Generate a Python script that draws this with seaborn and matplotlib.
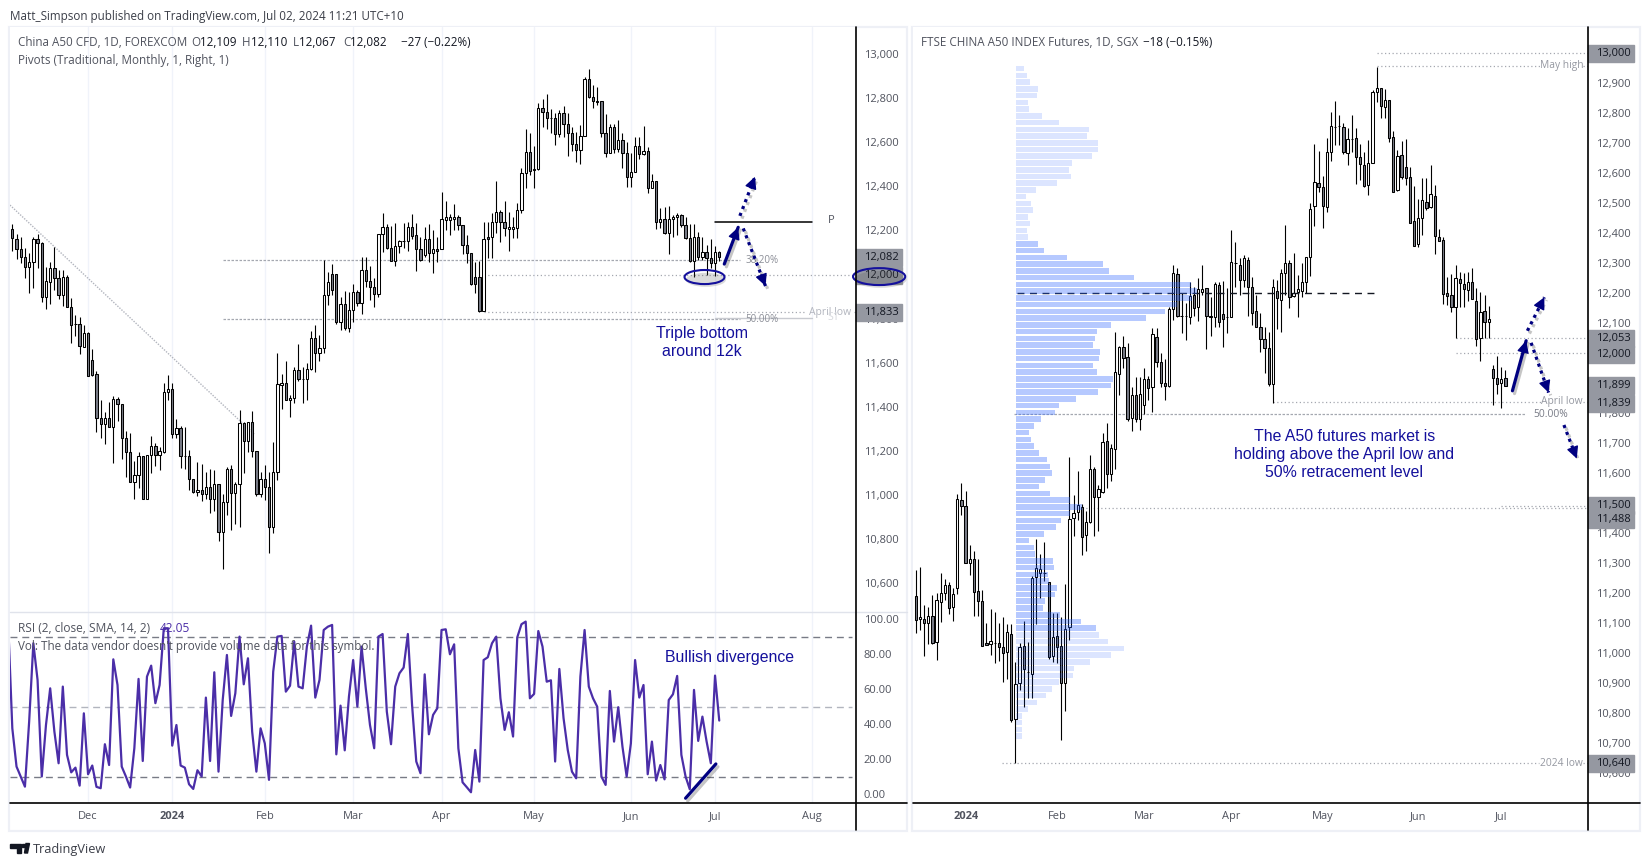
import numpy as np
import pandas as pd
import matplotlib
matplotlib.use('Agg')
import matplotlib.pyplot as plt
import matplotlib.patheffects as pe
from matplotlib.lines import Line2D
from matplotlib.patches import Ellipse, Polygon, Rectangle
from matplotlib.transforms import ScaledTranslation
import seaborn as sns

# %% data: China A50 CFD (left)
left_open = [12211, 12167, 12119, 12086, 12040, 12063, 12164, 12146, 11904, 11972, 12033, 11987, 11911, 11995, 11858, 11778, 11778, 11676, 11737, 11614,
             11551, 11351, 11323, 11351, 11310, 11437, 11414, 11260, 11196, 11060, 11092, 11178, 10986, 11183, 11223, 11183, 11198, 11469, 11482, 11278,
             11305, 11181, 11178, 11073, 11014, 11023, 11008, 11037, 10986, 11051, 10833, 10969, 11119, 11010, 11051, 11328, 11249, 11333, 11204, 11008,
             11073, 11037, 10855, 11105, 11504, 11513, 11432, 11442, 11569, 11528, 11528, 11573, 11714, 11646, 11669, 11911, 12007, 12007, 11790, 11870,
             11760, 11843, 11926, 11873, 12025, 11977, 11946, 11914, 12189, 12222, 12124, 12067, 12135, 12158, 12158, 12219, 12183, 12119, 12093, 12164,
             12104, 12119, 12119, 12252, 12252, 12255, 12264, 12228, 12140, 12101, 11992, 11992, 11840, 12176, 12176, 12242, 12287, 12242, 12213, 12213,
             12214, 12296, 12464, 12560, 12478, 12482, 12760, 12742, 12714, 12714, 12642, 12737, 12687, 12646, 12596, 12569, 12636, 12892, 12813, 12795,
             12792, 12646, 12555, 12674, 12574, 12616, 12555, 12446, 12469, 12587, 12551, 12566, 12399, 12428, 12242, 12255, 12192, 12255, 12264, 12273,
             12228, 12169, 12066, 12174, 12086, 12105, 12081, 12055, 12109]
left_high = [12234, 12189, 12174, 12123, 12100, 12173, 12187, 12150, 12040, 12063, 12131, 12025, 12025, 12001, 11896, 11820, 11813, 11775, 11745, 11664,
             11566, 11434, 11381, 11423, 11452, 11446, 11414, 11292, 11283, 11155, 11196, 11178, 11183, 11270, 11237, 11219, 11510, 11548, 11510, 11346,
             11316, 11313, 11207, 11073, 11151, 11143, 11108, 11120, 11116, 11051, 11007, 11128, 11137, 11063, 11389, 11336, 11333, 11384, 11204, 11108,
             11138, 11108, 11242, 11646, 11551, 11611, 11455, 11582, 11689, 11582, 11601, 11748, 11775, 11729, 12070, 12017, 12051, 12007, 11901, 11930,
             11926, 11961, 11934, 12086, 12086, 12043, 11987, 12189, 12283, 12234, 12225, 12237, 12161, 12237, 12245, 12280, 12240, 12177, 12219, 12233,
             12207, 12177, 12378, 12337, 12280, 12325, 12275, 12228, 12184, 12101, 12063, 12068, 12242, 12245, 12283, 12430, 12298, 12339, 12290, 12268,
             12331, 12487, 12666, 12646, 12589, 12783, 12801, 12825, 12755, 12737, 12752, 12770, 12737, 12674, 12654, 12684, 12901, 12937, 12866, 12858,
             12792, 12733, 12689, 12689, 12707, 12646, 12605, 12555, 12628, 12628, 12680, 12583, 12460, 12428, 12305, 12310, 12318, 12275, 12286, 12280,
             12268, 12233, 12234, 12199, 12177, 12139, 12164, 12134, 12110]
left_low = [12113, 12073, 12055, 11987, 11922, 11942, 12033, 11881, 11849, 11870, 11934, 11892, 11863, 11858, 11692, 11726, 11642, 11673, 11543, 11545,
            11290, 11263, 11233, 11310, 11146, 11340, 11164, 11086, 11060, 10986, 11033, 10986, 10986, 11104, 11136, 11116, 11192, 11434, 11263, 11260,
            11126, 11120, 11025, 11010, 10998, 10976, 10986, 10919, 10931, 10793, 10667, 10911, 10843, 10870, 10858, 11104, 11199, 11176, 10998, 10995,
            10980, 10737, 10831, 11070, 11393, 11432, 11358, 11419, 11522, 11422, 11434, 11570, 11563, 11613, 11646, 11866, 11911, 11779, 11752, 11752,
            11745, 11790, 11861, 11825, 11949, 11889, 11858, 11904, 12108, 12119, 12067, 12045, 12100, 12124, 12113, 12164, 12022, 12067, 12086, 12063,
            12010, 12063, 12119, 12207, 12184, 12207, 12207, 12098, 12055, 11957, 11922, 11836, 11840, 12078, 12078, 12195, 12154, 12180, 12113, 12169,
            12169, 12283, 12396, 12457, 12399, 12480, 12674, 12664, 12646, 12593, 12631, 12628, 12545, 12567, 12517, 12507, 12636, 12805, 12760, 12775,
            12631, 12540, 12555, 12555, 12563, 12487, 12404, 12404, 12469, 12530, 12548, 12377, 12399, 12210, 12214, 12189, 12096, 12177, 12184, 12222,
            12164, 12063, 11995, 12071, 12071, 12002, 12033, 11998, 12067]
left_close = [12169, 12119, 12086, 12040, 12063, 12164, 12146, 11904, 11975, 12033, 11987, 11911, 11993, 11858, 11775, 11778, 11680, 11737, 11543, 11548,
              11351, 11323, 11351, 11310, 11437, 11414, 11260, 11196, 11060, 11092, 11178, 10986, 11183, 11223, 11183, 11201, 11469, 11482, 11278, 11305,
              11181, 11181, 11073, 11014, 11023, 11008, 11037, 10986, 11051, 10833, 10969, 11119, 11010, 11051, 11328, 11249, 11333, 11204, 11008, 11073,
              11037, 10855, 11105, 11505, 11513, 11432, 11442, 11569, 11528, 11528, 11573, 11714, 11646, 11669, 11911, 11972, 11934, 11790, 11870, 11760,
              11843, 11926, 11873, 12025, 11977, 11946, 11914, 12189, 12222, 12124, 12067, 12134, 12155, 12158, 12219, 12180, 12119, 12070, 12164, 12104,
              12119, 12110, 12255, 12264, 12264, 12264, 12228, 12140, 12101, 11960, 11960, 11840, 12164, 12164, 12242, 12287, 12242, 12214, 12222, 12222,
              12296, 12464, 12560, 12477, 12482, 12760, 12742, 12714, 12714, 12642, 12737, 12687, 12646, 12596, 12569, 12636, 12892, 12813, 12795, 12790,
              12646, 12555, 12674, 12574, 12616, 12555, 12446, 12469, 12587, 12551, 12566, 12399, 12428, 12242, 12255, 12192, 12255, 12264, 12273, 12228,
              12169, 12066, 12174, 12086, 12105, 12081, 12055, 12105, 12082]

# RSI(2), first value belongs to the bar just off the left edge
rsi_values = [98.7, 37.6, 15.7, 10, 4.2, 41.4, 86.3, 65.3, 10, 39.5, 60.5, 35.7, 17.6, 61.5, 22.4, 12.4, 15.1, 4.8, 46.2, 11.3, 16.3,
              4.1, 3.3, 28.5, 16.6, 77.1, 62.4, 15.7, 10, 3.7, 26.2, 65.9, 18.9, 67.2, 73.5, 52, 62.4, 94.9, 94.9, 27.7, 39.5,
              16.3, 15.1, 5.6, 2.9, 13.6, 10, 55.2, 18.9, 69.7, 12.8, 53.8, 79.6, 44.7, 57.7, 90.1, 62.8, 77.7, 35.7, 12.8, 37.6,
              29, 8.1, 70, 90.1, 90.5, 58.6, 62, 87.2, 61.5, 60.5, 84.4, 96.4, 55.2, 65.3, 93.9, 95.8, 96.8, 22.7, 50.6, 25,
              55.8, 76.7, 50, 84.4, 60.5, 39.5, 26.2, 90.1, 91.6, 47.2, 28.5, 61.5, 69.1, 72.4, 91.6, 51, 18.6, 11.9, 68.5, 34.2,
              45.3, 49.1, 93.9, 94.3, 80, 85.7, 26.2, 6.7, 3.9, 1, 25.2, 7.1, 76.7, 78.3, 86.3, 90.1, 54.8, 36.7, 46.8, 32.9,
              89.7, 97.2, 98.7, 54.8, 57.3, 93.3, 84.4, 64.3, 65.1, 18.6, 71.6, 43.4, 25.2, 12.8, 9, 67.2, 93.9, 61.5, 54.8, 50,
              10, 5.2, 59, 30, 49.7, 27.1, 10, 29, 76.7, 55.2, 62.4, 11.3, 30, 7.7, 16.6, 8.4, 53.8, 57.1, 67.6, 22.4,
              10, 2.7, 59.6, 30.4, 44.3, 30, 17.6, 67.8, 42.05]

# %% data: FTSE China A50 futures (right)
right_open = [11190, 11116, 11116, 11102, 11123, 11039, 11172, 11200, 11227, 11153, 11217, 11510, 11490, 11302, 11313, 11207, 11173, 11033, 11032, 11036,
              11036, 11022, 11003, 11063, 10780, 10900, 11024, 10939, 10930, 11253, 11267, 11267, 11239, 10992, 11058, 11024, 10902, 11089, 11450, 11470,
              11489, 11396, 11439, 11613, 11520, 11537, 11707, 11597, 11680, 11930, 12020, 11987, 11783, 11861, 11780, 11828, 11913, 11889, 12053, 11972,
              11902, 11892, 12147, 12263, 12125, 12125, 12120, 12196, 12153, 12205, 12219, 12125, 12120, 12228, 12130, 12122, 12122, 12300, 12296, 12246,
              12311, 12222, 12142, 12089, 12047, 12017, 11897, 12209, 12178, 12269, 12300, 12191, 12205, 12209, 12237, 12320, 12492, 12567, 12553, 12489,
              12672, 12754, 12757, 12753, 12667, 12714, 12717, 12653, 12628, 12561, 12633, 12870, 12883, 12822, 12846, 12720, 12544, 12661, 12620, 12587,
              12440, 12363, 12450, 12503, 12489, 12525, 12387, 12378, 12200, 12193, 12155, 12247, 12230, 12211, 12239, 12175, 12050, 12142, 12105, 11947,
              11917, 11900, 11917]
right_high = [11278, 11287, 11161, 11153, 11194, 11200, 11267, 11248, 11237, 11217, 11530, 11567, 11541, 11361, 11341, 11314, 11211, 11102, 11148, 11139,
              11102, 11120, 11098, 11098, 10972, 11035, 11108, 11037, 11258, 11380, 11331, 11370, 11239, 11133, 11133, 11122, 11231, 11653, 11528, 11609,
              11498, 11474, 11661, 11622, 11561, 11735, 11767, 11698, 12072, 12025, 12058, 12033, 11887, 11922, 11920, 11950, 11924, 12083, 12083, 12002,
              11980, 12155, 12294, 12283, 12200, 12167, 12239, 12222, 12250, 12294, 12219, 12189, 12239, 12239, 12242, 12217, 12411, 12372, 12317, 12328,
              12322, 12253, 12194, 12133, 12089, 12072, 12247, 12244, 12280, 12427, 12311, 12336, 12261, 12300, 12322, 12500, 12698, 12675, 12590, 12717,
              12803, 12841, 12794, 12769, 12750, 12794, 12750, 12698, 12672, 12711, 12878, 12955, 12883, 12880, 12846, 12741, 12678, 12709, 12713, 12620,
              12558, 12514, 12583, 12586, 12628, 12561, 12413, 12389, 12253, 12263, 12294, 12272, 12267, 12272, 12283, 12217, 12205, 12196, 12158, 11961,
              11991, 11953, 11944]
right_low = [11069, 11078, 10991, 11031, 11031, 10978, 11105, 11178, 11131, 11109, 11198, 11461, 11300, 11261, 11125, 11124, 11025, 11028, 10994, 10969,
             10975, 10905, 10915, 10772, 10635, 10878, 10820, 10850, 10850, 11098, 11183, 11242, 10980, 10972, 10967, 10711, 10808, 11046, 11391, 11444,
             11328, 11341, 11433, 11391, 11409, 11533, 11550, 11574, 11614, 11861, 11950, 11775, 11742, 11770, 11746, 11798, 11846, 11805, 11953, 11889,
             11846, 11887, 12111, 12122, 12069, 12044, 12097, 12124, 12109, 12194, 12014, 12059, 12089, 12089, 12022, 12069, 12122, 12222, 12194, 12222,
             12124, 12094, 12087, 12005, 11936, 11891, 11833, 12081, 12072, 12194, 12150, 12189, 12122, 12189, 12200, 12258, 12425, 12539, 12419, 12472,
             12642, 12694, 12694, 12663, 12628, 12672, 12564, 12578, 12555, 12528, 12633, 12839, 12785, 12783, 12705, 12539, 12542, 12581, 12561, 12433,
             12359, 12353, 12394, 12478, 12483, 12330, 12375, 12163, 12161, 12137, 12050, 12155, 12153, 12175, 12180, 12024, 11975, 12050, 12050, 11828,
             11864, 11819, 11892]
right_close = [11111, 11122, 11100, 11125, 11035, 11177, 11200, 11227, 11152, 11197, 11513, 11490, 11300, 11313, 11205, 11175, 11025, 11029, 11040, 11036,
               11022, 11002, 11070, 10778, 10897, 11020, 10947, 10939, 11250, 11283, 11280, 11267, 10989, 11053, 11022, 10900, 11080, 11447, 11467, 11493,
               11389, 11439, 11613, 11522, 11547, 11703, 11597, 11683, 11937, 12020, 11983, 11780, 11861, 11780, 11866, 11916, 11885, 12066, 11970, 11902,
               11892, 12147, 12267, 12124, 12125, 12125, 12192, 12150, 12213, 12216, 12125, 12120, 12230, 12105, 12116, 12122, 12303, 12300, 12246, 12317,
               12222, 12135, 12087, 12047, 12017, 11897, 12220, 12183, 12269, 12300, 12187, 12202, 12213, 12237, 12322, 12480, 12570, 12555, 12492, 12670,
               12759, 12754, 12757, 12672, 12713, 12714, 12655, 12630, 12558, 12633, 12870, 12886, 12825, 12846, 12717, 12539, 12658, 12589, 12583, 12433,
               12359, 12450, 12511, 12485, 12531, 12392, 12375, 12197, 12192, 12155, 12250, 12233, 12213, 12239, 12180, 12047, 12139, 12105, 12113, 11917,
               11898, 11914, 11892]

# volume profile widths, top row to bottom row
vol_widths = [24, 33, 42, 66, 63, 36, 39, 78, 129, 219, 213, 246, 246, 228, 168, 159, 165, 123, 60, 30, 45, 51, 36, 42, 33, 36,
              66, 84, 153, 261, 279, 354, 524, 542, 527, 482, 447, 390, 285, 243, 237, 231, 252, 249, 231, 243, 292, 285, 246, 180, 129,
              117, 75, 54, 39, 45, 54, 69, 93, 102, 108, 87, 69, 102, 162, 197, 162, 135, 120, 84, 39, 54, 57, 111, 114, 96, 99, 123, 117, 87, 81, 132, 195, 240,
              249, 276, 324, 285, 222, 174, 171, 129, 108, 90, 63, 36, 18, 18, 18, 18]
vol_zone = ['outer'] * 26 + ['value'] * 58 + ['outer'] * 16
vol_prices = np.linspace(12949, 10724, len(vol_widths))

left_ticks = list(range(10600, 13001, 200))
right_ticks = list(range(10600, 13001, 100))
rsi_ticks = [0, 20, 40, 60, 80, 100]
holidays = ['2023-12-25', '2024-01-01']

GREY = '#50535e'
NAVY = '#000080'
NOTE = '#14109c'
DOWN = '#787b86'
GRID = '#f0f3fa'
LEVEL = '#a5a8b0'
DOT = (0, (1, 2))

sns.set_theme(style='white')
plt.rcParams['font.family'] = ['Open Sans', 'DejaVu Sans']

fig = plt.figure(figsize=(16.5, 8.66), dpi=100, facecolor='white')


def px_axes(x0, y0, x1, y1, **kw):
    return fig.add_axes([x0 / 1650, 1 - y1 / 866, (x1 - x0) / 1650, (y1 - y0) / 866], **kw)


def fig_line(x0, y0, x1, y1, color='black', lw=1.2):
    fig.add_artist(Line2D([x0 / 1650, x1 / 1650], [1 - y0 / 866, 1 - y1 / 866], color=color, lw=lw, zorder=3))


def fig_text(x, y, parts, size=8.33):
    # parts = [(text, colour), ...] written one after the other
    r = fig.canvas.get_renderer()
    for s, c in parts:
        t = fig.text(x / 1650, 1 - (y + 1.5) / 866, s, color=c, fontsize=size, va='center', ha='left')
        x += t.get_window_extent(r).width


def candles(ax, o, h, l, c):
    x = np.arange(len(o))
    o, h, l, c = map(np.array, (o, h, l, c))
    fills = ['white' if a <= b else DOWN for a, b in zip(o, c)]
    ax.vlines(x, l, h, color='black', lw=0.8, zorder=2)
    ax.bar(x, np.abs(c - o), bottom=np.minimum(o, c), width=0.55, color=fills, edgecolor='black', linewidth=0.75, zorder=3)


def month_ticks(last_bar, xmax):
    # first trading day of each month -> bar number, Jul 2 2024 is the last bar
    days = pd.bdate_range('2023-10-02', '2024-08-30')
    days = days[~days.isin(pd.to_datetime(holidays))]
    offset = days.get_loc(pd.Timestamp('2024-07-02')) - last_bar
    pos, labels = [], []
    for n in range(1, len(days)):
        if days[n].month != days[n - 1].month and 0 <= n - offset <= xmax:
            pos.append(n - offset)
            labels.append('2024' if days[n].month == 1 else days[n].strftime('%b'))
    return pos, labels


def style_axis(ax, ticks, labels):
    ax.yaxis.tick_right()
    ax.set_yticks(ticks)
    ax.set_yticklabels(labels, color=GREY, fontsize=8, ha='left')
    ax.tick_params(axis='y', length=0, pad=5.5)
    for s in ax.spines.values():
        s.set_visible(False)


def tag(ax, value, text, height, width):
    tr = ax.get_yaxis_transform()
    ax.add_patch(Rectangle((1, value - height / 2), width, height, transform=tr, color='#9598a1', clip_on=False, zorder=20))
    ax.text(1 + width * 0.55, value, text, transform=tr, ha='center', va='center', color='#131722', fontsize=8, zorder=21, clip_on=False)


def level(ax, x0, x1, y, color=LEVEL, ls=DOT, lw=0.9):
    ax.plot([x0, x1], [y, y], color=color, ls=ls, lw=lw, zorder=1)


def arrow(ax, start, end, dotted=False):
    shadow = [pe.SimpleLineShadow(offset=(1.5, -2), alpha=0.25), pe.Normal()]
    ax.plot([start[0], end[0]], [start[1], end[1]], color=NAVY, lw=2.3, zorder=8, clip_on=False,
            ls=(0, (1, 1.3)) if dotted else '-', path_effects=shadow)
    back = (end[0] - (end[0] - start[0]) * 0.2, end[1] - (end[1] - start[1]) * 0.2)
    ax.annotate('', xy=end, xytext=back, zorder=9,
                arrowprops=dict(arrowstyle='-|>', color=NAVY, lw=1, mutation_scale=18, shrinkA=0, shrinkB=0))


# %% left price panel
ax_l = px_axes(10, 27, 856, 612)
candles(ax_l, left_open, left_high, left_low, left_close)
ax_l.set_xlim(-0.55, 200.5)
ax_l.set_ylim(10470.5, 13129.5)
style_axis(ax_l, left_ticks, [f'{v:,}' for v in left_ticks])
for t in ax_l.yaxis.get_major_ticks():
    t.label2.set_transform(t.label2.get_transform() + ScaledTranslation(0, 1 / 100, fig.dpi_scale_trans))
l_pos, l_labels = month_ticks(168, 200)
ax_l.set_xticks(l_pos)
ax_l.set_xticklabels([])
ax_l.tick_params(axis='x', length=0)
ax_l.grid(axis='x', color=GRID, lw=1)
ax_l.set_axisbelow(True)

ax_l.plot([-0.55, 57.7], [12320, 11275], color='#b2b5be', ls=(0, (1, 1)), lw=1, zorder=1)
level(ax_l, 50, 173, 12069, ls=(0, (2, 1.2)))
level(ax_l, 50, 173, 11801, ls=(0, (2, 1.2)))
level(ax_l, 112, 201, 12000)
level(ax_l, 112, 188.5, 11833)
level(ax_l, 200, 201, 11833)
level(ax_l, 167, 190, 11805, color='#c8cad0', ls='-', lw=1)
level(ax_l, 167, 190, 12242, color='black', ls='-', lw=1.1)
ax_l.text(178.2, 12069, '38.20%', color='#8a8d96', fontsize=7, ha='center', va='center')
ax_l.text(178.2, 11801, '50.00%', color='#8a8d96', fontsize=7, ha='center', va='center')
ax_l.text(194.3, 11833, 'April low', color='#b2b5be', fontsize=7.5, ha='center', va='center')
ax_l.text(195, 11807, 'S1', color='#d6d8dd', fontsize=7.5, ha='center', va='center')
ax_l.text(194.6, 12252, 'P', color=GREY, fontsize=8, ha='center', va='center')
arrow(ax_l, (169.2, 12052), (172.5, 12219))
arrow(ax_l, (172.9, 12271), (176.5, 12449), dotted=True)
arrow(ax_l, (173.7, 12214), (179, 11952), dotted=True)
ring = [pe.SimplePatchShadow(offset=(1, -2), alpha=0.2), pe.Normal()]
ax_l.add_patch(Ellipse((164.5, 11993), 9.5, 64, fill=False, edgecolor=NOTE, lw=1.5, zorder=8, path_effects=ring))
ax_l.text(163.8, 11696, 'Triple bottom\naround 12k', color=NOTE, family='Liberation Sans', fontsize=11.4,
          ha='center', va='center', linespacing=1.2)
tag(ax_l, 12082, '12,082', 76, 46 / 846)
tag(ax_l, 12000, '12,000', 76, 46 / 846)
tag(ax_l, 11833, '11,833', 76, 46 / 846)
ax_l.add_patch(Ellipse((206, 11995), 12.4, 77, fill=False, edgecolor=NOTE, lw=1.5, zorder=22, clip_on=False, path_effects=ring))

# %% RSI panel
ax_r = px_axes(10, 612, 856, 803)
for lvl, col in zip([90, 50, 10], ['#787b86', '#b2b5be', '#787b86']):
    ax_r.plot([-0.55, 199.5], [lvl, lvl], color=col, ls=(0, (5, 3.5)), lw=1, zorder=1)
sns.lineplot(x=np.arange(-1, 169), y=rsi_values, ax=ax_r, color='#4b2ea8', lw=1.6, errorbar=None, zorder=3)
ax_r.set_xlim(-0.55, 200.5)
ax_r.set_ylim(-5.15, 104.2)
style_axis(ax_r, rsi_ticks, [f'{v:.2f}' for v in rsi_ticks])
ax_r.set_xticks(l_pos)
ax_r.set_xticklabels(l_labels, color=GREY, fontsize=7.9)
for lab in ax_r.get_xticklabels():
    if lab.get_text() == '2024':
        lab.set_fontweight('bold')
ax_r.tick_params(axis='x', length=0, pad=6)
ax_r.grid(axis='x', color=GRID, lw=1)
ax_r.set_axisbelow(True)
line_shadow = [pe.SimpleLineShadow(offset=(1.5, -2), alpha=0.25), pe.Normal()]
ax_r.plot([160, 167.2], [-2.4, 17.2], color=NAVY, lw=2.3, zorder=5, clip_on=False, path_effects=line_shadow)
ax_r.text(170.5, 78, 'Bullish divergence', color=NOTE, family='Liberation Sans', fontsize=11.4, ha='center', va='center')

# %% right price panel
ax_f = px_axes(913, 27, 1588, 803)
candles(ax_f, right_open, right_high, right_low, right_close)
ax_f.set_xlim(-0.67, 161.9)
ax_f.set_ylim(10501, 13087.7)
style_axis(ax_f, right_ticks, [f'{v:,}' for v in right_ticks])
f_pos, f_labels = month_ticks(142, 161)
ax_f.set_xticks(f_pos)
ax_f.set_xticklabels(f_labels, color=GREY, fontsize=7.9)
for lab in ax_f.get_xticklabels():
    if lab.get_text() == '2024':
        lab.set_fontweight('bold')
ax_f.tick_params(axis='x', length=0, pad=6)

level(ax_f, 111, 162, 13000)
level(ax_f, 111, 150.5, 12958)
level(ax_f, 160.7, 162, 12958)
level(ax_f, 130, 162, 12050)
level(ax_f, 130, 162, 12000)
level(ax_f, 86, 150.5, 11839)
level(ax_f, 160.7, 162, 11839)
level(ax_f, 23.7, 147, 11797, ls=(0, (2, 1.2)))
level(ax_f, 40, 162, 11483)
level(ax_f, 141, 162, 11492)
level(ax_f, 20.8, 150, 10633)
level(ax_f, 160.7, 162, 10633)
ax_f.plot([24.4, 110.5], [12202, 12202], color='#131722', ls=(0, (5, 4)), lw=1, zorder=4)
for x, y, s, c in [(155.6, 12958, 'May high', '#9598a1'), (155.6, 11839, 'April low', '#9598a1'),
                   (152.9, 11797, '50.00%', '#787b86'), (155.6, 10633, '2024 low', '#9598a1')]:
    ax_f.text(x, y, s, color=c, fontsize=7.4, ha='center', va='center')
arrow(ax_f, (143.7, 11875), (147, 12042))
arrow(ax_f, (147.3, 12075), (151.4, 12187), dotted=True)
arrow(ax_f, (148.2, 12035), (152.4, 11869), dotted=True)
arrow(ax_f, (156.1, 11761), (159.2, 11649), dotted=True)
ax_f.text(103.2, 11662, 'The A50 futures market is\nholding above the April low and\n50% retracement level', color=NOTE,
          family='Liberation Sans', fontsize=11.4, ha='center', va='center', linespacing=1.25)
tag_h = 56
for val, txt in [(13000, '13,000'), (12050, '12,053'), (11995, '12,000'), (11893, '11,899'), (11833, '11,839'),
                 (11492, '11,500'), (11445, '11,488'), (10633, '10,640')]:
    tag(ax_f, val, txt, tag_h, 46 / 675)

# volume profile sits on its own axes starting where the bars start
vol_df = pd.DataFrame({'width': vol_widths, 'price': vol_prices, 'zone': vol_zone})
ax_v = px_axes(1016, 27, 1588, 803, zorder=5)
ax_v.patch.set_visible(False)
sns.barplot(data=vol_df[vol_df.zone == 'outer'], x='width', y='price', orient='h', native_scale=True, ax=ax_v,
            color='#2962ff', alpha=0.16, saturation=1, width=0.82, errorbar=None, linewidth=0)
sns.barplot(data=vol_df[vol_df.zone == 'value'], x='width', y='price', orient='h', native_scale=True, ax=ax_v,
            color='#2962ff', alpha=0.34, saturation=1, width=0.82, errorbar=None, linewidth=0)
ax_v.set_xlim(0, 1716)
ax_v.set_ylim(10501, 13087.7)
ax_v.axis('off')

# %% frames, rules and legends
for x0, x1 in [(9, 907), (912, 1640)]:
    fig.add_artist(Rectangle((x0 / 1650, 1 - 830.5 / 866), (x1 - x0) / 1650, 803.5 / 866, transform=fig.transFigure,
                             fill=False, edgecolor='#eef0f6', lw=1.6, zorder=0))
fig_line(10, 612, 907, 612, color='#e0e3eb', lw=1)
fig_line(10, 803, 907, 803)
fig_line(856, 27, 856, 830)
fig_line(913, 803, 1640, 803)
fig_line(1588, 27, 1588, 830)

fig_text(10, 15, [('Matt_Simpson published on TradingView.com, Jul 02, 2024 11:21 UTC+10', '#3b3e48')])
fig_text(18, 41.5, [('China A50 CFD, 1D, FOREXCOM', GREY)])
fig_text(191, 41.5, [('O', GREY), ('12,109', '#131722')])
fig_text(242, 41.5, [('H', GREY), ('12,110', '#131722')])
fig_text(293, 41.5, [('L', GREY), ('12,067', '#131722')])
fig_text(343, 41.5, [('C', GREY), ('12,082', '#131722')])
fig_text(401, 41.5, [('\u221227 (\u22120.22%)', '#131722')])
fig_text(18, 59, [('Pivots (Traditional, Monthly, 1, Right, 1)', GREY)])
fig_text(18, 627.5, [('RSI (2, close, SMA, 14, 2)', GREY)], size=8.6)
fig_text(160, 627.5, [('42.05', '#4b2ea8')], size=8.6)
fig_text(18, 645, [("Vol: The data vendor doesn't provide volume data for this symbol.", GREY)])
fig_text(921, 41.5, [('FTSE CHINA A50 INDEX Futures, 1D, SGX', GREY)])
fig_text(1143, 41.5, [('\u221218 (\u22120.15%)', '#131722')])

# TradingView mark and name
h = 866
for verts in ([(10, 843.5), (21, 843.5), (21, 853), (16.5, 853), (16.5, 847.5), (10, 847.5)],
              [(24.5, 853), (26, 843.5), (29.5, 843.5), (27.5, 853)],
              [(22, 844), (24.5, 844), (24.5, 847), (22, 847)]):
    fig.add_artist(Polygon([(x / 1650, 1 - y / h) for x, y in verts], transform=fig.transFigure, color='#131722', zorder=3))
fig_text(33, 848, [('TradingView', '#3b3e48')], size=9.2)

fig.savefig('out.png', dpi=100)
